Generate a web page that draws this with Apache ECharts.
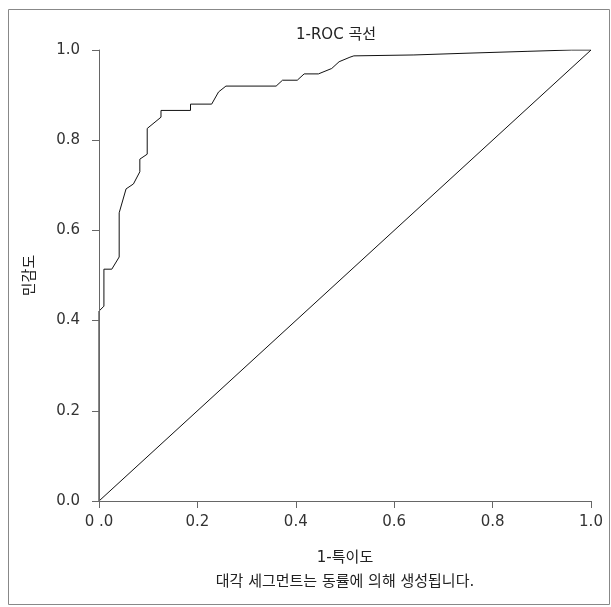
<!DOCTYPE html>
<html>
<head>
<meta charset="utf-8">
<script src="https://cdn.jsdelivr.net/npm/echarts@6/dist/echarts.min.js"></script>
<style>
  html, body { margin: 0; padding: 0; background: #fff; }
  #chart { width: 611px; height: 607px; }
</style>
</head>
<body>
<div id="chart"></div>
<script>
    // ROC 곡선 좌표 (1-특이도, 민감도)
    var rocX = [0, 0, 0.010, 0.010, 0.026, 0.041, 0.041, 0.055, 0.070, 0.083, 0.083, 0.098, 0.098,
        0.126, 0.126, 0.186, 0.186, 0.229, 0.243, 0.258, 0.360, 0.373, 0.403, 0.417, 0.446,
        0.473, 0.488, 0.510, 0.518, 0.640, 0.750, 0.870, 0.960, 1.0];
    var rocY = [0, 0.421, 0.432, 0.514, 0.514, 0.541, 0.639, 0.692, 0.703, 0.730, 0.758, 0.769, 0.826,
        0.851, 0.866, 0.866, 0.880, 0.880, 0.907, 0.920, 0.920, 0.933, 0.933, 0.947, 0.947,
        0.959, 0.974, 0.984, 0.987, 0.989, 0.993, 0.997, 1.0, 1.0];
    var diagX = [0, 1];
    var diagY = [0, 1];
    var tickLabels = {0: '0 .0', 0.2: '0.2', 0.4: '0.4', 0.6: '0.6', 0.8: '0.8', 1: '1.0'};

    var fontFamily = '"DejaVu Sans", "Noto Sans CJK KR", sans-serif';
    var axisColor = '#666';
    var fs = 15;

    function pairs(xs, ys) {
        var out = [];
        for (var i = 0; i < xs.length; i++) {
            out.push([xs[i], ys[i]]);
        }
        return out;
    }

    function label(v) {
        var k = Math.round(v * 10) / 10;
        return tickLabels[k] != undefined ? tickLabels[k] : k.toFixed(1);
    }

    var myChart = echarts.init(document.getElementById('chart'));
    myChart.setOption({
        animation: false,
        textStyle: { fontFamily: fontFamily },
        title: {
            text: '1-ROC 곡선',
            left: 331,
            top: 23,
            textAlign: 'center',
            textStyle: { fontSize: fs, fontWeight: 'normal', color: '#222', fontFamily: fontFamily }
        },
        graphic: [
            {
                type: 'rect',
                shape: { x: 8.5, y: 9.5, width: 601, height: 595 },
                style: { fill: 'none', stroke: '#888', lineWidth: 1 },
                silent: true
            },
            {
                type: 'text',
                x: 345,
                y: 582,
                style: {
                    text: '대각 세그먼트는 동률에 의해 생성됩니다.',
                    fontSize: fs,
                    fill: '#222',
                    fontFamily: fontFamily,
                    textAlign: 'center',
                    textVerticalAlign: 'middle'
                },
                silent: true
            }
        ],
        grid: {
            left: 99,
            right: 20,
            top: 50,
            bottom: 106
        },
        xAxis: {
            type: 'value',
            min: 0,
            max: 1,
            interval: 0.2,
            z: 5,
            name: '1-특이도',
            nameLocation: 'middle',
            nameGap: 50,
            nameTextStyle: { fontSize: fs, color: '#222', fontFamily: fontFamily },
            axisLine: { show: true, lineStyle: { color: axisColor } },
            axisTick: { show: true, length: 7, lineStyle: { color: axisColor } },
            axisLabel: {
                margin: 14,
                fontSize: fs,
                color: '#333',
                formatter: label
            },
            splitLine: { show: false }
        },
        yAxis: {
            type: 'value',
            min: 0,
            max: 1,
            interval: 0.2,
            z: 5,
            name: '민감도',
            nameLocation: 'middle',
            nameGap: 61,
            nameRotate: 90,
            nameTextStyle: { fontSize: fs, color: '#222', fontFamily: fontFamily },
            axisLine: { show: true, lineStyle: { color: axisColor } },
            axisTick: { show: true, length: 7, lineStyle: { color: axisColor } },
            axisLabel: {
                margin: 19,
                fontSize: fs,
                color: '#333',
                formatter: function (v) { return (Math.round(v * 10) / 10).toFixed(1); }
            },
            splitLine: { show: false }
        },
        series: [
            {
                type: 'line',
                data: pairs(diagX, diagY),
                symbol: 'none',
                z: 1,
                lineStyle: { color: '#111', width: 1 },
                silent: true
            },
            {
                type: 'line',
                data: pairs(rocX, rocY),
                symbol: 'none',
                z: 1,
                lineStyle: { color: '#111', width: 1 },
                silent: true
            }
        ]
    });
    window.addEventListener('resize', myChart.resize);
</script>
</body>
</html>
